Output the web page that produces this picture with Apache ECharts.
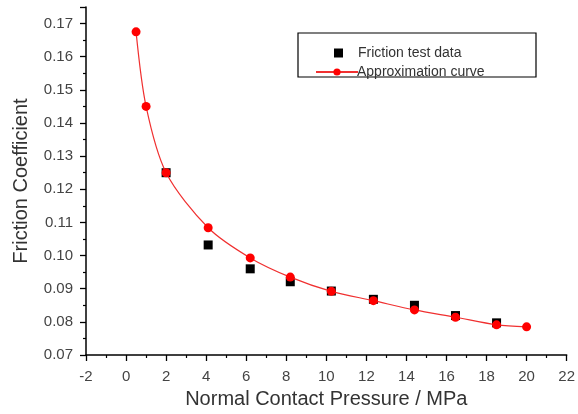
<!DOCTYPE html>
<html>
<head>
<meta charset="utf-8">
<script src="https://cdn.jsdelivr.net/npm/echarts@6/dist/echarts.min.js"></script>
<style>
html,body{margin:0;padding:0;background:#fff;}
#main{width:578px;height:414px;}
</style>
</head>
<body>
<div id="main"></div>
<script>
// approximation curve (red)
var pressureFit = [0.5, 1.0, 2.0, 4.1, 6.2, 8.2, 10.25, 12.35, 14.4, 16.45, 18.5, 20.0];
var frictionFit = [0.1675, 0.145, 0.125, 0.1084, 0.0993, 0.0935, 0.0892, 0.0864, 0.0836, 0.0814, 0.0791, 0.0785];
// friction test data (black squares)
var pressureTest = [2.0, 4.1, 6.2, 8.2, 10.25, 12.35, 14.4, 16.45, 18.5];
var frictionTest = [0.125, 0.1032, 0.096, 0.0921, 0.0893, 0.0868, 0.085, 0.0819, 0.0797];

var fitName = 'Approximation curve';
var testName = 'Friction test data';

function pairs(xs, ys) {
    var out = [];
    for (var i = 0; i < xs.length; i++) {
        out.push([xs[i], ys[i]]);
    }
    return out;
}

var myChart = echarts.init(document.getElementById('main'));
var fontName = 'Liberation Sans, Arial, sans-serif';
var option = {
    animation: false,
    backgroundColor: '#fff',
    textStyle: { fontFamily: fontName },
    grid: { left: 86, right: 10, top: 7, bottom: 58 },
    graphic: [{
        type: 'rect',
        shape: { x: 298, y: 33, width: 238, height: 44 },
        style: { fill: 'none', stroke: '#000', lineWidth: 1.2 }
    }],
    legend: [{
        data: [{ name: testName, icon: 'rect' }],
        left: 329, top: 41,
        itemWidth: 9, itemHeight: 9, itemGap: 5,
        textStyle: { fontSize: 14, color: '#333', padding: [0, 0, 0, 10] },
        selectedMode: false
    }, {
        data: [fitName],
        left: 310, top: 60,
        itemWidth: 42, itemHeight: 9, itemGap: 5,
        textStyle: { fontSize: 14, color: '#333', padding: [0, 0, 0, -6] },
        selectedMode: false
    }],
    xAxis: {
        type: 'value',
        min: -2, max: 22, interval: 2,
        name: 'Normal Contact Pressure / MPa',
        nameLocation: 'middle',
        nameGap: 34,
        nameTextStyle: { fontSize: 20, color: '#333' },
        axisLine: { onZero: false, lineStyle: { color: '#000', width: 1.5 } },
        axisTick: { length: 6, lineStyle: { color: '#000', width: 1.3 } },
        minorTick: { show: true, splitNumber: 2, length: 3, lineStyle: { color: '#000', width: 1.2 } },
        axisLabel: { fontSize: 15, color: '#444', margin: 14 },
        splitLine: { show: false }
    },
    yAxis: {
        type: 'value',
        min: 0.07, max: 0.175, interval: 0.01,
        name: 'Friction Coefficient',
        nameLocation: 'middle',
        nameGap: 55,
        nameTextStyle: { fontSize: 20, color: '#333' },
        axisLine: { onZero: false, lineStyle: { color: '#000', width: 1.5 } },
        axisTick: { length: 6, lineStyle: { color: '#000', width: 1.3 } },
        minorTick: { show: true, splitNumber: 2, length: 3, lineStyle: { color: '#000', width: 1.2 } },
        axisLabel: {
            fontSize: 15, color: '#444', margin: 13, showMaxLabel: false,
            formatter: function (v) { return v.toFixed(2); }
        },
        splitLine: { show: false }
    },
    series: [{
        name: testName,
        type: 'scatter',
        symbol: 'rect',
        symbolSize: 9,
        itemStyle: { color: '#000', opacity: 1 },
        data: pairs(pressureTest, frictionTest),
        z: 2
    }, {
        name: fitName,
        type: 'line',
        smooth: 0.3,
        symbol: 'circle',
        symbolSize: 9,
        itemStyle: { color: '#f00', opacity: 1 },
        lineStyle: { color: '#f03030', width: 1.2 },
        data: pairs(pressureFit, frictionFit),
        z: 3
    }]
};
myChart.setOption(option);
</script>
</body>
</html>
